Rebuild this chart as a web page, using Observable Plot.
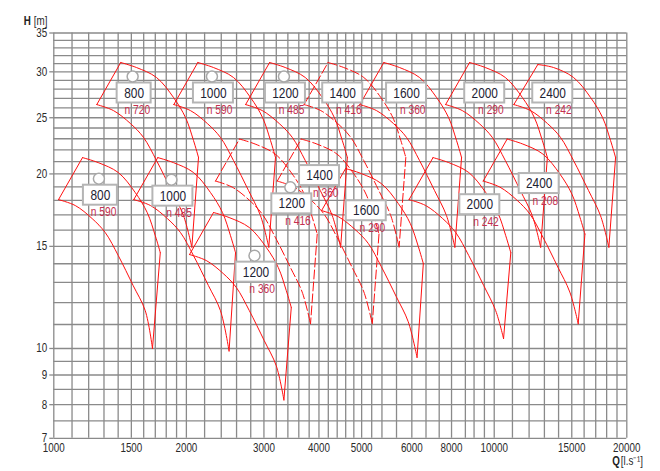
<!DOCTYPE html>
<html><head><meta charset="utf-8">
<script src="https://cdn.jsdelivr.net/npm/d3@7"></script>
<script src="https://cdn.jsdelivr.net/npm/@observablehq/plot@0.6"></script>
<style>html,body{margin:0;padding:0;background:#fff;}</style>
</head><body><div id="chart"></div>
<script>
// ---------- axes ----------
const xGrid = [1000,1100,1200,1300,1400,1500,1600,1700,1800,1900,2000,2200,2400,2600,2800,3000,3200,3400,3600,3800,4000,4200,4400,4600,4800,5000,5270,5560,6000,6500,7000,7500,8000,8600,9000,9500,10000,11000,12000,13000,14000,15000,16000,17000,18000,19000,20000];
const yGrid = [7,7.5,8,8.5,9,9.5,10,11,12,13,14,15,16,17,18,19,20,21,22,23,24,25,26,27,28,29,30,31,32,33,34,35];
const xTickAt = [1000,1500,2000,3000,4000,5000,6500,8000,10000,15000,20000];
const xTickText = ["1000","1500","2000","3000","4000","5000","6000","8000","10000","15000","20000"];
const yTicks = [7,8,9,10,15,20,25,30,35];

// ---------- envelopes (Q [l/s], H [m]) : upper arc and lower arc ----------
const e800_720_top = [[1419,31.13],[1540,30.52],[1711,29.33],[1870,27.09],[1991,25.02],[2076,22.84],[2131,21.35]];
const e800_720_bot = [[1252,26.34],[1366,25.72],[1493,24.43],[1599,23.11],[1711,21.09],[1850,18.73],[1970,16.95],[2058,14.95]];
const e1000_590_top = [[2123,31.13],[2303,30.52],[2559,29.33],[2797,27.09],[2978,25.02],[3105,22.84],[3187,21.35]];
const e1000_590_bot = [[1873,26.34],[2043,25.72],[2232,24.43],[2391,23.11],[2559,21.09],[2767,18.73],[2946,16.95],[3077,14.95]];
const e1200_485_top = [[3090,31.13],[3353,30.52],[3724,29.33],[4071,27.09],[4335,25.02],[4519,22.84],[4640,21.35]];
const e1200_485_bot = [[2726,26.34],[2974,25.72],[3250,24.43],[3481,23.11],[3724,21.09],[4027,18.73],[4288,16.95],[4480,14.95]];
const e1400_416_top = [[4195,31.13],[4552,30.52],[5057,29.33],[5528,27.09],[5885,25.02],[6136,22.84],[6299,21.35]];
const e1400_416_bot = [[3701,26.34],[4038,25.72],[4412,24.43],[4726,23.11],[5057,21.09],[5468,18.73],[5822,16.95],[6082,14.95]];
const e1600_360_top = [[5614,31.13],[6093,30.52],[6768,29.33],[7398,27.09],[7876,25.02],[8211,22.84],[8430,21.35]];
const e1600_360_bot = [[4953,26.34],[5404,25.72],[5905,24.43],[6325,23.11],[6768,21.09],[7317,18.73],[7791,16.95],[8140,14.95]];
const e2000_290_top = [[8792,31.13],[9541,30.52],[10598,29.33],[11585,27.09],[12334,25.02],[12859,22.84],[13202,21.35]];
const e2000_290_bot = [[7756,26.34],[8463,25.72],[9247,24.43],[9905,23.11],[10598,21.09],[11459,18.73],[12201,16.95],[12747,14.95]];
const e2400_242_top = [[12560,30.88],[13630,30.52],[15140,29.33],[16550,27.09],[17620,25.02],[18370,22.84],[18860,21.35]];
const e2400_242_bot = [[11080,26.34],[12090,25.72],[13210,24.43],[14150,23.11],[15140,21.09],[16370,18.73],[17430,16.95],[18210,14.95]];

const e800_590_top = [[1162,21.34],[1261,20.92],[1401,20.11],[1531,18.57],[1630,17.15],[1700,15.65],[1745,14.63]];
const e800_590_bot = [[1025,18.06],[1119,17.64],[1222,16.75],[1309,15.84],[1401,14.46],[1514,12.84],[1613,11.62],[1675,10.0]];
const e1000_485_top = [[1722,21.34],[1869,20.92],[2076,20.11],[2269,18.57],[2416,17.15],[2519,15.65],[2586,14.63]];
const e1000_485_bot = [[1519,18.06],[1658,17.64],[1811,16.75],[1940,15.84],[2076,14.46],[2244,12.84],[2390,11.62],[2500,9.9]];
const e1200_416_top = [[2640,22.97],[2865,22.52],[3182,21.64],[3479,19.99],[3704,18.46],[3861,16.85],[3964,15.75]];
const e1200_416_bot = [[2329,19.44],[2541,18.98],[2777,18.03],[2974,17.05],[3182,15.56],[3441,13.82],[3664,12.51],[3827,11.03]];
const e1400_360_top = [[3646,22.97],[3957,22.52],[4395,21.64],[4804,19.99],[5115,18.46],[5333,16.85],[5475,15.75]];
const e1400_360_bot = [[3216,19.44],[3510,18.98],[3835,18.03],[4108,17.05],[4395,15.56],[4752,13.82],[5060,12.51],[5286,11.03]];
const e1600_290_top = [[4597,20.43],[4989,20.03],[5541,19.25],[6057,17.78],[6449,16.42],[6724,14.99],[6903,14.01]];
const e1600_290_bot = [[4055,17.29],[4425,16.88],[4835,16.03],[5179,15.17],[5541,13.84],[5991,12.29],[6379,11.12],[6680,9.65]];
const e2000_242_top = [[7262,21.34],[7881,20.92],[8754,20.11],[9569,18.57],[10188,17.15],[10621,15.65],[10905,14.63]];
const e2000_242_bot = [[6407,18.06],[6990,17.64],[7638,16.75],[8181,15.84],[8754,14.46],[9465,12.84],[10077,11.62],[10500,10.4]];
const e2400_208_top = [[10700,22.97],[11612,22.52],[12898,21.64],[14099,19.99],[15011,18.46],[15650,16.85],[16067,15.75]];
const e2400_208_bot = [[9440,19.44],[10300,18.98],[11254,18.03],[12055,17.05],[12898,15.56],[13945,13.82],[14848,12.51],[15513,11.03]];
const e1200_360_top = [[2305,17.16],[2501,16.82],[2778,16.17],[3037,14.94],[3234,13.79],[3371,12.59],[3461,11.77]];
const e1200_360_bot = [[2033,14.52],[2219,14.18],[2424,13.47],[2597,12.74],[2778,11.63],[3004,10.32],[3199,9.34],[3330,8.15]];

const envelopes = [
  {top: e800_720_top, bot: e800_720_bot, dashed: false},
  {top: e1000_590_top, bot: e1000_590_bot, dashed: false},
  {top: e1200_485_top, bot: e1200_485_bot, dashed: false},
  {top: e1400_416_top, bot: e1400_416_bot, dashed: true},
  {top: e1600_360_top, bot: e1600_360_bot, dashed: false},
  {top: e2000_290_top, bot: e2000_290_bot, dashed: false},
  {top: e2400_242_top, bot: e2400_242_bot, dashed: false},
  {top: e800_590_top, bot: e800_590_bot, dashed: false},
  {top: e1000_485_top, bot: e1000_485_bot, dashed: false},
  {top: e1200_416_top, bot: e1200_416_bot, dashed: true},
  {top: e1400_360_top, bot: e1400_360_bot, dashed: true},
  {top: e1600_290_top, bot: e1600_290_bot, dashed: false},
  {top: e2000_242_top, bot: e2000_242_bot, dashed: false},
  {top: e2400_208_top, bot: e2400_208_bot, dashed: false},
  {top: e1200_360_top, bot: e1200_360_bot, dashed: false}
];

// ---------- labels ----------
const labelSize  = ["800","1000","1200","1400","1600","2000","2400","800","1000","1200","1400","1600","2000","2400","1200"];
const labelSpeed = ["n 720","n 590","n 485","n 416","n 360","n 290","n 242","n 590","n 485","n 416","n 360","n 290","n 242","n 208","n 360"];
const labelQ = [1522,2304,3357,4529,6323,9516,13580,1276,1864,3471,4012,5122,9275,12650,2878];
const labelH = [27.58,27.58,27.58,27.58,27.58,27.58,27.58,18.38,18.31,17.76,19.87,17.28,17.70,19.25,13.54];
const labelMarker = [1,1,1,0,0,0,0,1,1,1,0,0,0,0,1];

// ---------- layout ----------
const W = 660, Ht = 471;
const mL = 53.3, mR = 33.7, mT = 32.5, mB = 33.2;
const xDom = [1000, 20000], yDom = [7, 35];
const pxDecX = (W - mL - mR) / Math.log10(xDom[1] / xDom[0]);
const pxDecY = (Ht - mT - mB) / Math.log10(yDom[1] / yDom[0]);
const font = "'Liberation Sans', Arial, sans-serif";
const red = "#ff1010";
const gridColor = "#8a8a8a";

// build segment table
const segs = [];
envelopes.forEach((e, i) => {
  const parts = [
    e.top,
    e.bot,
    [e.bot[0], e.top[0]],
    [e.top[e.top.length - 1], e.bot[e.bot.length - 1]]
  ];
  parts.forEach((p, j) => p.forEach(([q, h]) => segs.push({seg: i * 4 + j, q, h, dashed: e.dashed})));
});

const labels = labelSize.map((s, i) => {
  const hw = s.length > 3 ? 20 : 17;
  const kx = Math.pow(10, hw / pxDecX);
  const ky = Math.pow(10, 10 / pxDecY);
  return {size: s, speed: labelSpeed[i], q: labelQ[i], h: labelH[i], marker: labelMarker[i] === 1,
          x1: labelQ[i] / kx, x2: labelQ[i] * kx, y1: labelH[i] / ky, y2: labelH[i] * ky};
});
const tickK = Math.pow(10, 4 / pxDecX);

const chart = Plot.plot({
  width: W, height: Ht,
  marginLeft: mL, marginRight: mR, marginTop: mT, marginBottom: mB,
  x: {type: "log", domain: xDom, axis: null},
  y: {type: "log", domain: yDom, axis: null},
  style: {fontFamily: font, background: "#fff", overflow: "visible"},
  marks: [
    Plot.ruleX(xGrid, {x: d => d, stroke: gridColor, strokeWidth: 1.3}),
    Plot.ruleY(yGrid, {y: d => d, stroke: gridColor, strokeWidth: 1.3}),
    Plot.ruleY(yTicks, {y: d => d, x1: xDom[0] / tickK, x2: xDom[0], stroke: gridColor, strokeWidth: 1.3}),
    Plot.line(segs.filter(d => !d.dashed), {x: "q", y: "h", z: "seg", curve: "catmull-rom", stroke: red, strokeWidth: 1}),
    Plot.line(segs.filter(d => d.dashed), {x: "q", y: "h", z: "seg", curve: "catmull-rom", stroke: red, strokeWidth: 1, strokeDasharray: "9,3"}),
    Plot.rect(labels, {x1: "x1", x2: "x2", y1: "y1", y2: "y2", fill: "#fff", stroke: "#b5b5b5", strokeWidth: 2}),
    Plot.dot(labels.filter(d => d.marker), {x: "q", y: "h", r: 5.5, dx: -1.5, dy: -16.5, fill: "#fff", stroke: "#a8a8a8", strokeWidth: 1.5}),
    Plot.text(labels, {x: "q", y: "h", text: "size", fontSize: 14.5, fill: "#1c2233"}),
    Plot.text(labels, {x: "x2", y: "h", text: "speed", textAnchor: "end", dx: -1, dy: 17, fontSize: 12.5, fill: "#c43050"}),
    Plot.text(yTicks, {y: d => d, frameAnchor: "left", textAnchor: "end", dx: -6.5, fontSize: 12, fill: "#2a2a2a"}),
    Plot.text(xTickAt, {x: d => d, text: (d, i) => xTickText[i], frameAnchor: "bottom", dy: 14, fontSize: 12, fill: "#2a2a2a"}),
    Plot.text(["H"], {frameAnchor: "top-left", dx: -30, dy: -17, textAnchor: "start", fontWeight: "bold", fontSize: 12, fill: "#222"}),
    Plot.text(["[m]"], {frameAnchor: "top-left", dx: -20, dy: -17, textAnchor: "start", fontSize: 12, fill: "#2a2a2a"}),
    Plot.text(["Q"], {frameAnchor: "bottom-right", dx: -14.6, dy: 26.5, textAnchor: "start", fontWeight: "bold", fontSize: 12, fill: "#222"}),
    Plot.text(["[l.s\u207B\u00B9]"], {frameAnchor: "bottom-right", dx: -6, dy: 26.5, textAnchor: "start", fontSize: 12, fill: "#2a2a2a"})
  ]
});
document.getElementById("chart").append(chart);

// narrow lettering (the reference uses a condensed face): squeeze each text horizontally about its own anchor point
chart.querySelectorAll("text").forEach(t => {
  const xa = t.getAttribute("x");
  let x = 0;
  if (xa !== null && xa.trim() !== "" && !isNaN(+xa)) { x = +xa; t.removeAttribute("x"); }
  const tr = t.getAttribute("transform") || "";
  t.setAttribute("transform", `${tr} translate(${x},0) scale(0.82,1)`);
});
</script></body></html>
